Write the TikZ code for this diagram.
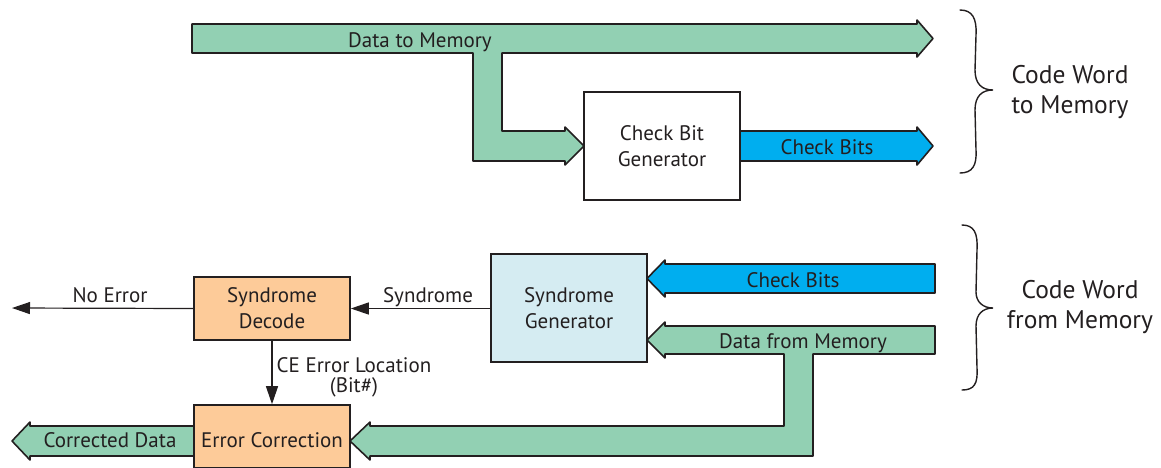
\documentclass[tikz,border=0pt]{standalone}
\usepackage{fontspec}
\setmainfont{PT Sans}
\usetikzlibrary{arrows.meta}
\definecolor{fatgreen}{RGB}{146,208,179}
\definecolor{fatblue}{RGB}{0,174,239}
\definecolor{boxorange}{RGB}{253,203,153}
\definecolor{boxblue}{RGB}{213,236,242}
\definecolor{ink}{RGB}{35,31,32}
\tikzset{
  x=1pt, y=-1pt,
  lbl/.style={font=\fontsize{21}{24}\selectfont, text=ink, anchor=base, inner sep=0pt},
  biglbl/.style={font=\fontsize{25.5}{30}\selectfont, text=ink, anchor=base, inner sep=0pt},
  blk/.style={draw=ink, line width=1.6pt, minimum width=156pt, align=center,
              font=\fontsize{21}{26}\selectfont, text=ink, inner sep=0pt},
  fat/.style={draw=ink, line width=1.6pt, line join=round},
  thin/.style={draw=ink, line width=1.2pt, -{Triangle[length=18pt,width=12pt]}},
  brc/.style={draw=ink, line width=1.4pt, line cap=round},
}
\begin{document}
\begin{tikzpicture}
\useasboundingbox (0,0) rectangle (1161,467);
\clip (0,0) rectangle (1161,467);

% ---------- top: code word to memory ----------
\path[fat, fill=fatgreen]
  (192,24) -- (917,24) -- (917,20) -- (933,38.5) -- (917,57) -- (917,53)
  -- (502,53) -- (502,131) -- (565,131) -- (565,127) -- (584,146) -- (565,165)
  -- (565,161) -- (473,161) -- (473,53) -- (192,53) -- cycle;
\path[fat, fill=fatblue]
  (740,131) -- (917,131) -- (917,127) -- (933,146) -- (917,165) -- (917,161)
  -- (740,161) -- cycle;
\node[blk, fill=white, minimum height=108pt] (cbg) at (662,146) {Check Bit\\Generator};
\node[lbl] (dtm) at (420,47) {Data to Memory};
\node[lbl] (cbt) at (827,154) {Check Bits};

% ---------- bottom: code word from memory ----------
\path[fat, fill=fatblue]
  (935,264) -- (665,264) -- (665,260) -- (647,278.5) -- (665,297) -- (665,293)
  -- (935,293) -- cycle;
\path[fat, fill=fatgreen]
  (935,326) -- (665,326) -- (665,322) -- (647,340) -- (665,358) -- (665,354)
  -- (784,354) -- (784,426) -- (370,426) -- (370,422) -- (350,441) -- (370,460)
  -- (370,456) -- (813,456) -- (813,354) -- (935,354) -- cycle;
\path[fat, fill=fatgreen]
  (194,426) -- (30,426) -- (30,422) -- (12,441) -- (30,460) -- (30,456)
  -- (194,456) -- cycle;

\node[blk, fill=boxblue, minimum height=108pt] (sg) at (569,308) {Syndrome\\Generator};
\node[blk, fill=boxorange, minimum height=63pt] (sd) at (272,308.5) {Syndrome\\Decode};
\node[blk, fill=boxorange, minimum height=63pt] (ec) at (272,436.5) {};
\node[lbl] (ect) at (272,447) {Error Correction};

\node[lbl] (cbb) at (793,287) {Check Bits};
\node[lbl] (dfm) at (803,348) {Data from Memory};
\node[lbl] (cd) at (110,447) {Corrected Data};

\coordinate (ne) at (12,308);
\draw[thin] (sg.west |- sd.east) -- (sd.east);
\draw[thin] (sd.west) -- (ne);
\draw[thin] (sd.south) -- (ec.north);
\node[lbl] (nel) at (110,302) {No Error};
\node[lbl] (syl) at (428,302) {Syndrome};
\node[lbl] (cel) at (354,372) {CE Error Location};
\node[lbl] (bit) at (354,392) {(Bit\#)};

% ---------- braces ----------
\draw[brc] (960,10) .. controls (972,10) and (977,18) .. (976,35) -- (975,70)
  .. controls (975,84) and (982,90) .. (993,90)
  .. controls (982,90) and (975,96) .. (975,110) -- (976,150)
  .. controls (977,166) and (972,173) .. (960,173);
\draw[brc] (962,225) .. controls (974,225) and (978,233) .. (977,250) -- (976,292)
  .. controls (976,302) and (983,308) .. (993,308)
  .. controls (983,308) and (976,314) .. (976,326) -- (977,368)
  .. controls (978,384) and (974,390) .. (962,390);
\node[biglbl] (cw1) at (1070,83) {Code Word};
\node[biglbl] (tm) at (1070,113) {to Memory};
\node[biglbl] (cw2) at (1080,298) {Code Word};
\node[biglbl] (fm) at (1080,328) {from Memory};
\end{tikzpicture}
\end{document}
